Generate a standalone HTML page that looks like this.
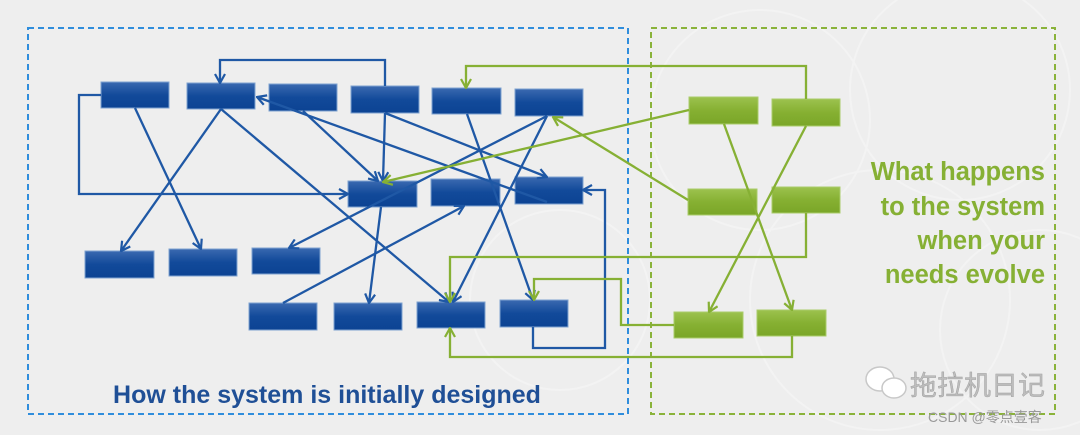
<!DOCTYPE html>
<html><head><meta charset="utf-8"><style>
body{margin:0;background:#eeeeee;}
svg{display:block}
</style></head><body>
<svg width="1080" height="435" viewBox="0 0 1080 435" xmlns="http://www.w3.org/2000/svg">
<defs>
<linearGradient id="bg" x1="0" y1="0" x2="0" y2="1"><stop offset="0" stop-color="#3a69b0"/><stop offset="0.5" stop-color="#124a9a"/><stop offset="1" stop-color="#0c4393"/></linearGradient>
<linearGradient id="gg" x1="0" y1="0" x2="0" y2="1"><stop offset="0" stop-color="#9cc24e"/><stop offset="0.5" stop-color="#86b032"/><stop offset="1" stop-color="#7aa628"/></linearGradient>
<marker id="ab" viewBox="0 0 12 12" refX="11" refY="6" markerWidth="12" markerHeight="12" markerUnits="userSpaceOnUse" orient="auto"><polyline points="2,1 11,6 2,11" fill="none" stroke="#1f58a5" stroke-width="2.2"/></marker>
<marker id="ag" viewBox="0 0 12 12" refX="11" refY="6" markerWidth="12" markerHeight="12" markerUnits="userSpaceOnUse" orient="auto"><polyline points="2,1 11,6 2,11" fill="none" stroke="#86b034" stroke-width="2.2"/></marker>
</defs>
<rect width="1080" height="435" fill="#eeeeee"/>
<g fill="none" stroke="#f3f3f3" stroke-width="2">
<circle cx="760" cy="120" r="110"/><circle cx="960" cy="90" r="110"/><circle cx="880" cy="300" r="130"/><circle cx="560" cy="300" r="90"/><circle cx="1040" cy="330" r="100"/>
</g>
<rect x="28" y="28" width="600" height="386" fill="none" stroke="#2f8ddc" stroke-width="2" stroke-dasharray="6,4"/>
<rect x="651" y="28" width="404" height="386" fill="none" stroke="#8ab33a" stroke-width="2" stroke-dasharray="6,4"/>

<g fill="url(#bg)" stroke="#7fa3d0" stroke-width="1">
<rect x="101" y="82" width="68" height="26"/><rect x="187" y="83" width="68" height="26"/><rect x="269" y="84" width="68" height="27"/><rect x="351" y="86" width="68" height="27"/><rect x="432" y="88" width="69" height="26"/><rect x="515" y="89" width="68" height="27"/>
<rect x="348" y="181" width="69" height="26"/><rect x="431" y="179" width="69" height="27"/><rect x="515" y="177" width="68" height="27"/>
<rect x="85" y="251" width="69" height="27"/><rect x="169" y="249" width="68" height="27"/><rect x="252" y="248" width="68" height="26"/>
<rect x="249" y="303" width="68" height="27"/><rect x="334" y="303" width="68" height="27"/><rect x="417" y="302" width="68" height="26"/><rect x="500" y="300" width="68" height="27"/>
</g>
<g fill="url(#gg)" stroke="#a9cc6a" stroke-width="1">
<rect x="689" y="97" width="69" height="27"/><rect x="772" y="99" width="68" height="27"/>
<rect x="688" y="189" width="69" height="26"/><rect x="772" y="187" width="68" height="26"/>
<rect x="674" y="312" width="69" height="26"/><rect x="757" y="310" width="69" height="26"/>
</g>

<g fill="none" stroke="#1f58a5" stroke-width="2.3" marker-end="url(#ab)">
<polyline points="385,86 385,60 220,60 220,83"/>
<polyline points="101,95 79,95 79,194 348,194"/>
<line x1="135" y1="108" x2="201" y2="249"/>
<line x1="221" y1="109" x2="121" y2="251"/>
<line x1="221" y1="109" x2="449" y2="302"/>
<line x1="547" y1="202" x2="257" y2="97"/>
<line x1="303" y1="111" x2="378" y2="181"/>
<line x1="385" y1="113" x2="547" y2="177"/>
<line x1="385" y1="113" x2="383" y2="181"/>
<line x1="467" y1="114" x2="533" y2="300"/>
<line x1="547" y1="116" x2="289" y2="248"/>
<line x1="547" y1="116" x2="453" y2="302"/>
<line x1="283" y1="303" x2="464" y2="206"/>
<line x1="381" y1="207" x2="369" y2="303"/>
<polyline points="533,327 533,348 605,348 605,190 583,190"/>
</g>
<g fill="none" stroke="#86b034" stroke-width="2.3" marker-end="url(#ag)">
<polyline points="806,99 806,66 466,66 466,88"/>
<line x1="689" y1="110" x2="383" y2="182"/>
<line x1="688" y1="200" x2="553" y2="117"/>
<line x1="724" y1="124" x2="792" y2="310"/>
<line x1="806" y1="126" x2="709" y2="312"/>
<polyline points="806,213 806,257 450,257 450,302"/>
<polyline points="674,325 621,325 621,279 534,279 534,300"/>
<polyline points="792,336 792,357 450,357 450,328"/>
</g>

<text x="327" y="403" text-anchor="middle" font-family="Liberation Sans, sans-serif" font-weight="bold" font-size="25" fill="#1f4f96">How the system is initially designed</text>
<g font-family="Liberation Sans, sans-serif" font-weight="bold" font-size="25.5" fill="#86b034" text-anchor="end">
<text x="1045" y="180">What happens</text>
<text x="1045" y="215">to the system</text>
<text x="1045" y="249">when your</text>
<text x="1045" y="283">needs evolve</text>
</g>
<g fill="#fff" stroke="#c8c8c8" stroke-width="1.5">
<ellipse cx="880" cy="379" rx="14" ry="12"/><ellipse cx="894" cy="388" rx="12" ry="10"/>
</g>
<text x="910" y="395" font-family="Liberation Sans, Noto Sans CJK SC, sans-serif" font-size="27" fill="#bdbdbd" stroke="#999" stroke-width="0.4">拖拉机日记</text>
<text x="928" y="422" font-family="Liberation Sans, Noto Sans CJK SC, sans-serif" font-size="14" fill="#999">CSDN @零点壹客</text>
</svg>
</body></html>
